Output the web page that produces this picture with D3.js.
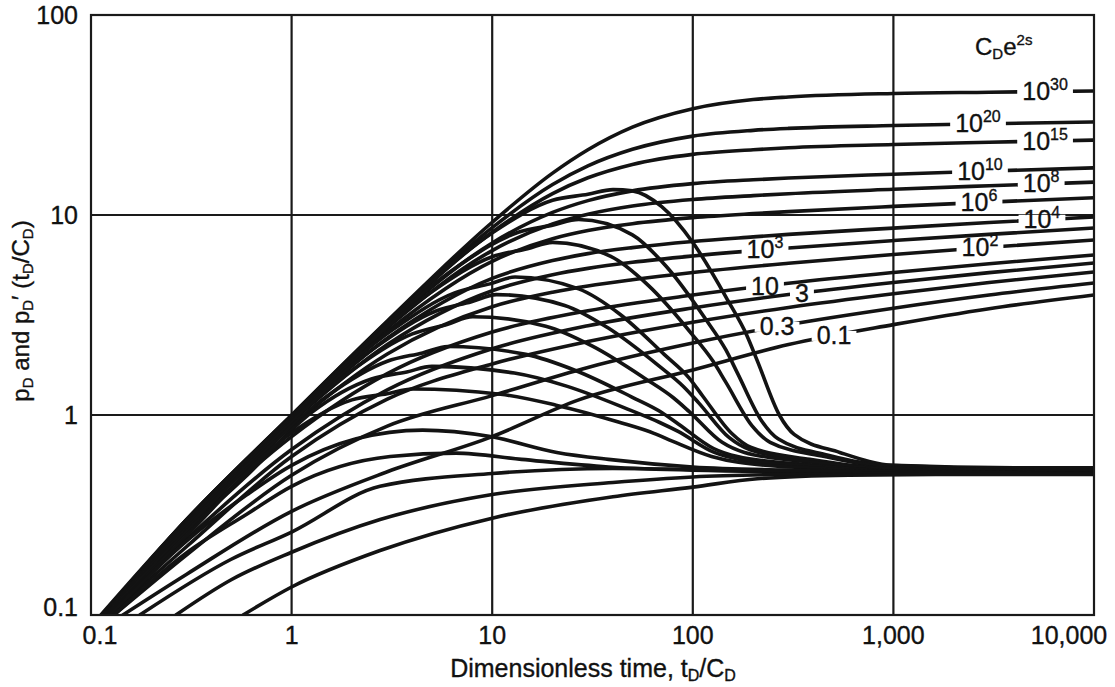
<!DOCTYPE html>
<html lang="en">

<head>
    <meta charset="utf-8">
    <script src="https://d3js.org/d3.v7.min.js"></script>
    <style>
        body { margin: 0; background: #fff; }
        svg { display: block; font-family: "Liberation Sans", Arial, Helvetica, sans-serif; }
        text { fill: #111; stroke: #111; stroke-width: 0.35px; }
    </style>
</head>

<body>
    <svg id="chart" width="1115" height="687"></svg>

    <script>
        // tick values and their printed text
        const xTicks = [0.1, 1, 10, 100, 1000, 10000];
        const xTickText = ["0.1", "1", "10", "100", "1,000", "10,000"];
        const yTicks = [0.1, 1, 10, 100];
        const yTickText = ["0.1", "1", "10", "100"];

        // CDe2s label of every pressure curve (base + exponent), null = no label
        const labelBase = ["10", "10", "10", "10", "10", "10", "10", "10", "10", "10", "3", null, "0.3", "0.1"];
        const labelExp = ["30", "20", "15", "10", "8", "6", "4", "3", "2", "", "", "", "", ""];
        const labelT = [5700, 2640, 5700, 2700, 5450, 2670, 5500, 229, 2700, 229, 350, null, 263, 506];

        // pressure curves pD, points are [tD/CD, pD]  (CDe2s = 1e30 ... 0.1)
        const pressure = [
            [[0.114, 0.1], [0.3, 0.3], [1, 1.0], [3, 2.95], [10, 9.2], [20, 16.2], [30, 21.2], [50, 27.5], [100, 34.0], [200, 37.8], [300, 38.9], [1000, 40.5], [3000, 41.1], [10000, 41.7]],
            [[0.114, 0.1], [0.3, 0.3], [1, 0.99], [3, 2.92], [10, 8.65], [20, 14.2], [30, 17.6], [50, 21.3], [100, 24.8], [200, 26.5], [300, 27.1], [1000, 28.0], [3000, 28.6], [10000, 29.2]],
            [[0.115, 0.1], [0.3, 0.299], [1, 0.99], [3, 2.89], [10, 8.2], [20, 12.8], [30, 15.35], [50, 17.9], [100, 20.1], [200, 21.2], [300, 21.7], [1000, 22.5], [3000, 23.1], [10000, 23.7]],
            [[0.115, 0.1], [0.3, 0.298], [1, 0.98], [3, 2.8], [10, 7.25], [20, 10.3], [30, 11.8], [50, 13.2], [100, 14.35], [200, 15.0], [300, 15.3], [1000, 16.0], [3000, 16.6], [10000, 17.2]],
            [[0.116, 0.1], [0.3, 0.297], [1, 0.975], [3, 2.73], [10, 6.64], [20, 9.03], [30, 10.1], [50, 11.1], [100, 11.96], [200, 12.5], [300, 12.78], [1000, 13.44], [3000, 14.0], [10000, 14.6]],
            [[0.116, 0.1], [0.3, 0.294], [1, 0.97], [3, 2.62], [10, 5.87], [20, 7.61], [30, 8.36], [50, 9.05], [100, 9.7], [200, 10.16], [300, 10.4], [1000, 11.04], [3000, 11.6], [10000, 12.2]],
            [[0.117, 0.1], [0.3, 0.29], [1, 0.947], [3, 2.42], [10, 4.82], [20, 5.92], [30, 6.41], [50, 6.87], [100, 7.37], [200, 7.77], [300, 8.0], [1000, 8.6], [3000, 9.17], [10000, 9.77]],
            [[0.117, 0.1], [0.3, 0.285], [1, 0.925], [3, 2.25], [10, 4.18], [20, 5.03], [30, 5.41], [50, 5.8], [100, 6.24], [300, 6.84], [1000, 7.45], [3000, 8.0], [10000, 8.61]],
            [[0.118, 0.1], [0.3, 0.278], [1, 0.884], [3, 2.02], [10, 3.48], [20, 4.11], [30, 4.42], [50, 4.75], [100, 5.16], [300, 5.74], [1000, 6.35], [3000, 6.9], [10000, 7.5]],
            [[0.12, 0.1], [0.3, 0.265], [1, 0.78], [3, 1.61], [10, 2.6], [30, 3.32], [100, 3.98], [300, 4.56], [1000, 5.16], [3000, 5.71], [10000, 6.31]],
            [[0.122, 0.1], [0.3, 0.24], [1, 0.672], [3, 1.336], [10, 2.145], [30, 2.795], [100, 3.43], [300, 4.0], [1000, 4.6], [3000, 5.15], [10000, 5.75]],
            [[0.124, 0.1], [0.3, 0.22], [1, 0.62], [3, 1.2], [10, 1.8], [30, 2.33], [100, 2.91], [300, 3.45], [1000, 4.04], [3000, 4.6], [10000, 5.19]],
            [[0.13, 0.1], [0.3, 0.2], [1, 0.5], [3, 0.88], [10, 1.25], [30, 1.73], [100, 2.29], [300, 2.83], [1000, 3.42], [3000, 3.98], [10000, 4.57]],
            [[0.144, 0.1], [0.3, 0.16], [1, 0.33], [3, 0.52], [10, 0.78], [27, 1.19], [100, 1.68], [300, 2.25], [1000, 2.83], [3000, 3.4], [10000, 3.98]]
        ];

        // derivative curves pD'(tD/CD), same order of CDe2s
        const derivative = [
            [[0.112, 0.1], [0.3, 0.3], [1, 0.99], [3, 2.89], [10, 8.14], [20, 11.86], [30, 12.69], [40, 13.4], [50, 13.2], [70, 11.0], [100, 7.29], [150, 3.72], [186, 2.5], [210, 1.86], [270, 1.0], [320, 0.8], [540, 0.65], [1000, 0.56], [4000, 0.545], [10000, 0.545]],
            [[0.113, 0.1], [0.5, 0.5], [1, 0.98], [2.03, 1.95], [6.75, 5.55], [13.5, 8.2], [20, 8.9], [27, 9.5], [50, 7.96], [74, 5.51], [116, 3.01], [146, 2.12], [167, 1.62], [221, 0.93], [266, 0.76], [473, 0.63], [932, 0.56], [4280, 0.54], [10000, 0.54]],
            [[0.114, 0.1], [0.5, 0.49], [1, 0.97], [1.5, 1.449], [5, 4.136], [10, 6.18], [15, 6.79], [20, 7.3], [39, 6.21], [60, 4.45], [98, 2.57], [126, 1.86], [146, 1.46], [198, 0.88], [243, 0.73], [454, 0.62], [952, 0.55], [5020, 0.535], [10000, 0.535]],
            [[0.115, 0.1], [0.3, 0.292], [0.975, 0.943], [3.25, 2.705], [6.5, 4.08], [9.75, 4.525], [13, 4.9], [27, 4.27], [43, 3.21], [72, 2.01], [96, 1.53], [112, 1.245], [156, 0.81], [194, 0.69], [383, 0.6], [854, 0.545], [5180, 0.53], [10000, 0.53]],
            [[0.116, 0.1], [0.3, 0.287], [0.79, 0.75], [2.63, 2.189], [5.25, 3.31], [7.88, 3.686], [10.5, 4.0], [23, 3.53], [37.9, 2.72], [66.8, 1.78], [90, 1.385], [107, 1.15], [152, 0.77], [193, 0.67], [401, 0.59], [951, 0.54], [10000, 0.527]],
            [[0.117, 0.1], [0.3, 0.28], [0.6, 0.56], [2, 1.673], [4, 2.543], [6, 2.846], [8, 3.1], [18.5, 2.78], [31.6, 2.21], [58, 1.52], [80, 1.22], [96, 1.04], [140, 0.73], [181, 0.65], [397, 0.58], [1000, 0.533], [10000, 0.524]],
            [[0.118, 0.1], [0.3, 0.272], [0.6, 0.54], [1.5, 1.242], [3, 1.857], [4.5, 2.044], [6, 2.2], [14.7, 2.01], [26, 1.67], [49.7, 1.23], [70, 1.03], [85, 0.9], [127, 0.68], [167, 0.62], [386, 0.563], [1034, 0.527], [10000, 0.52]],
            [[0.12, 0.1], [0.3, 0.262], [0.6, 0.5], [1.25, 1.026], [2.5, 1.514], [3.75, 1.642], [5, 1.75], [12.9, 1.62], [23.7, 1.39], [47.3, 1.07], [68, 0.92], [84, 0.83], [128, 0.65], [171, 0.6], [417, 0.553], [1190, 0.522], [10000, 0.515]],
            [[0.122, 0.1], [0.3, 0.25], [1, 0.815], [2, 1.19], [3, 1.277], [4, 1.35], [11, 1.27], [20.8, 1.12], [43, 0.92], [64, 0.81], [79, 0.74], [124, 0.62], [169, 0.58], [433, 0.54], [1313, 0.52], [10000, 0.512]],
            [[0.125, 0.1], [0.3, 0.235], [0.6, 0.4], [1, 0.56], [2.1, 0.76], [4.5, 0.84], [9.8, 0.78], [21, 0.65], [38, 0.6], [100, 0.55], [300, 0.53], [1000, 0.52], [10000, 0.51]],
            [[0.13, 0.1], [0.3, 0.205], [0.6, 0.32], [1, 0.44], [3.1, 0.62], [6.6, 0.645], [14, 0.6], [38, 0.55], [100, 0.53], [1000, 0.515], [10000, 0.51]],
            [[0.175, 0.1], [0.5, 0.19], [1, 0.26], [2.76, 0.44], [10, 0.51], [40, 0.54], [100, 0.535], [1000, 0.52], [10000, 0.51]],
            [[0.265, 0.1], [0.5, 0.15], [1, 0.206], [2.76, 0.3], [10, 0.4], [40, 0.46], [100, 0.49], [300, 0.505], [1000, 0.51], [10000, 0.508]],
            [[0.573, 0.1], [1, 0.138], [2.76, 0.21], [10, 0.305], [40, 0.39], [100, 0.436], [210, 0.48], [600, 0.5], [2000, 0.505], [10000, 0.505]]
        ];

        const svg = d3.select("#chart");

        // log scales on both axes
        const x = d3.scaleLog().domain([0.1, 10000]).range([91, 1094]);
        const y = d3.scaleLog().domain([0.1, 100]).range([615, 15]);

        // clip so curve ends stop at the frame
        svg.append("defs").append("clipPath").attr("id", "plot")
            .append("rect")
            .attr("x", x(0.1)).attr("y", y(100))
            .attr("width", x(10000) - x(0.1)).attr("height", y(0.1) - y(100));

        // grid lines at each decade
        svg.append("g")
            .selectAll("line")
            .data(xTicks.slice(1, -1))
            .enter()
            .append("line")
            .attr("x1", d => x(d)).attr("x2", d => x(d))
            .attr("y1", y(100)).attr("y2", y(0.1))
            .attr("stroke", "#1a1a1a").attr("stroke-width", 2.2);

        svg.append("g")
            .selectAll("line")
            .data(yTicks.slice(1, -1))
            .enter()
            .append("line")
            .attr("y1", d => y(d)).attr("y2", d => y(d))
            .attr("x1", x(0.1)).attr("x2", x(10000))
            .attr("stroke", "#1a1a1a").attr("stroke-width", 2.2);

        // the curves
        const line = d3.line()
            .x(d => x(d[0]))
            .y(d => y(d[1]))
            .curve(d3.curveMonotoneX);

        const curves = svg.append("g").attr("clip-path", "url(#plot)");

        curves.selectAll(".pd")
            .data(pressure)
            .enter()
            .append("path")
            .attr("class", "pd")
            .attr("d", line)
            .attr("fill", "none")
            .attr("stroke", "#131313")
            .attr("stroke-width", 3.6)
            .attr("stroke-linecap", "round");

        curves.selectAll(".deriv")
            .data(derivative)
            .enter()
            .append("path")
            .attr("class", "deriv")
            .attr("d", line)
            .attr("fill", "none")
            .attr("stroke", "#131313")
            .attr("stroke-width", 3.6)
            .attr("stroke-linecap", "round");

        // frame
        svg.append("rect")
            .attr("x", x(0.1)).attr("y", y(100))
            .attr("width", x(10000) - x(0.1)).attr("height", y(0.1) - y(100))
            .attr("fill", "none").attr("stroke", "#1a1a1a").attr("stroke-width", 2.2);

        // value of a curve at time t (log-log interpolation between points)
        function valueAt(curve, t) {
            for (let i = 1; i < curve.length; i++) {
                if (t <= curve[i][0]) {
                    const a = curve[i - 1], b = curve[i];
                    const f = Math.log(t / a[0]) / Math.log(b[0] / a[0]);
                    return Math.exp(Math.log(a[1]) + f * Math.log(b[1] / a[1]));
                }
            }
            return curve[curve.length - 1][1];
        }

        // CDe2s labels sitting on the pressure curves
        labelBase.forEach(function (base, i) {
            if (base === null) return;
            const t = labelT[i];
            const g = svg.append("g")
                .attr("transform", "translate(" + x(t) + "," + y(valueAt(pressure[i], t)) + ")");
            const txt = g.append("text")
                .attr("text-anchor", "middle")
                .attr("font-size", 25);
            txt.append("tspan").attr("dy", 8.5).text(base);
            if (labelExp[i] !== "") {
                txt.append("tspan").attr("font-size", 16).attr("dy", -10).text(labelExp[i]);
            }
            const box = txt.node().getBBox();
            g.insert("rect", "text")
                .attr("x", box.x - 5).attr("width", box.width + 10)
                .attr("y", -5).attr("height", 10)
                .attr("fill", "#fff");
        });

        // CDe2s heading
        const head = svg.append("text")
            .attr("x", 975).attr("y", 55)
            .attr("font-size", 24);
        head.append("tspan").text("C");
        head.append("tspan").attr("font-size", 15).attr("dy", 4).text("D");
        head.append("tspan").attr("dy", -4).text("e");
        head.append("tspan").attr("font-size", 15).attr("dy", -10).text("2s");

        // tick labels
        svg.append("g")
            .selectAll("text")
            .data(xTicks)
            .enter()
            .append("text")
            .attr("x", d => x(d))
            .attr("dx", (d, i) => i === 0 ? 9 : (i === xTicks.length - 1 ? -25 : 0))
            .attr("y", 644)
            .attr("text-anchor", "middle")
            .attr("font-size", 25)
            .text((d, i) => xTickText[i]);

        svg.append("g")
            .selectAll("text")
            .data(yTicks)
            .enter()
            .append("text")
            .attr("x", 78)
            .attr("y", d => y(d))
            .attr("dy", (d, i) => i === 0 ? 1 : 8.5)
            .attr("text-anchor", "end")
            .attr("font-size", 25)
            .text((d, i) => yTickText[i]);

        // axis titles
        const xt = svg.append("text")
            .attr("x", 593).attr("y", 677)
            .attr("text-anchor", "middle")
            .attr("font-size", 25);
        xt.append("tspan").text("Dimensionless time, t");
        xt.append("tspan").attr("font-size", 16).attr("dy", 4).text("D");
        xt.append("tspan").attr("dy", -4).text("/C");
        xt.append("tspan").attr("font-size", 16).attr("dy", 4).text("D");

        const yt = svg.append("text")
            .attr("transform", "translate(29,311) rotate(-90)")
            .attr("text-anchor", "middle")
            .attr("font-size", 24);
        yt.append("tspan").text("p");
        yt.append("tspan").attr("font-size", 15).attr("dy", 4).text("D");
        yt.append("tspan").attr("dy", -4).text(" and p");
        yt.append("tspan").attr("font-size", 15).attr("dy", 4).text("D");
        yt.append("tspan").attr("dy", -4).text("\u2032 (t");
        yt.append("tspan").attr("font-size", 15).attr("dy", 4).text("D");
        yt.append("tspan").attr("dy", -4).text("/C");
        yt.append("tspan").attr("font-size", 15).attr("dy", 4).text("D");
        yt.append("tspan").attr("dy", -4).text(")");
    </script>
</body>

</html>
